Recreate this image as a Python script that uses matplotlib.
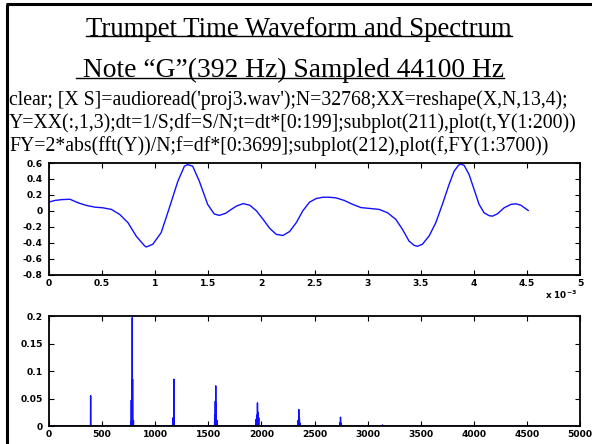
import numpy as np
import matplotlib
matplotlib.use("Agg")
import matplotlib.pyplot as plt
from matplotlib.lines import Line2D
from matplotlib.transforms import IdentityTransform

plt.rcParams['axes.unicode_minus'] = False

# ---------------- data ----------------
title_lines = ["Trumpet Time Waveform and Spectrum",
               " Note \u201cG\u201d(392 Hz) Sampled 44100 Hz"]
code_lines = ["clear; [X S]=audioread('proj3.wav');N=32768;XX=reshape(X,N,13,4);",
              "Y=XX(:,1,3);dt=1/S;df=S/N;t=dt*[0:199];subplot(211),plot(t,Y(1:200))",
              "FY=2*abs(fft(Y))/N;f=df*[0:3699];subplot(212),plot(f,FY(1:3700))"]

# time waveform (t in ms, i.e. x 10^-3 s)
t_ms = [0.000, 0.056, 0.119, 0.197, 0.275, 0.353, 0.431, 0.509, 0.588, 0.666,
        0.744, 0.822, 0.900, 0.916, 0.978, 1.056, 1.134, 1.213, 1.275, 1.306,
        1.353, 1.416, 1.494, 1.556, 1.603, 1.666, 1.708, 1.766, 1.828, 1.890,
        1.953, 2.016, 2.078, 2.140, 2.203, 2.266, 2.328, 2.390, 2.453, 2.516,
        2.578, 2.640, 2.703, 2.780, 2.860, 2.938, 3.016, 3.110, 3.188, 3.266,
        3.328, 3.390, 3.437, 3.469, 3.516, 3.579, 3.642, 3.704, 3.767, 3.814,
        3.855, 3.877, 3.909, 3.956, 4.003, 4.050, 4.097, 4.145, 4.176, 4.223,
        4.286, 4.349, 4.396, 4.443, 4.512]
y_wave = [0.110, 0.130, 0.140, 0.145, 0.100, 0.067, 0.046, 0.037, 0.017, -0.046,
          -0.150, -0.320, -0.440, -0.455, -0.420, -0.275, 0.040, 0.370, 0.560, 0.580,
          0.560, 0.370, 0.080, -0.040, -0.058, -0.030, 0.010, 0.060, 0.090, 0.070,
          0.000, -0.108, -0.220, -0.296, -0.310, -0.260, -0.150, 0.000, 0.108, 0.154,
          0.170, 0.170, 0.162, 0.130, 0.080, 0.040, 0.030, 0.017, -0.025, -0.108,
          -0.233, -0.380, -0.433, -0.446, -0.420, -0.317, -0.150, 0.080, 0.330, 0.496,
          0.570, 0.587, 0.570, 0.454, 0.267, 0.080, -0.025, -0.062, -0.067, -0.038,
          0.038, 0.080, 0.088, 0.070, 0.004]

# spectrum components (Hz, amplitude)
comp_f = [392, 770, 775, 784, 787, 795,
          1168, 1176, 1178,
          1560, 1566, 1570, 1574, 1582,
          1950, 1958, 1963, 1968, 1975,
          2345, 2352, 2358, 2366,
          2740, 2745, 2752,
          3140]
comp_a = [0.055, 0.008, 0.047, 0.197, 0.085, 0.010,
          0.015, 0.085, 0.045,
          0.020, 0.045, 0.073, 0.040, 0.010,
          0.012, 0.020, 0.042, 0.025, 0.015,
          0.010, 0.030, 0.014, 0.005,
          0.006, 0.016, 0.005,
          0.002]
f_max = 3699 * 44100 / 32768
df = 44100 / 32768

wave_xticks = [0, 0.5, 1, 1.5, 2, 2.5, 3, 3.5, 4, 4.5, 5]
wave_yticks = [-0.8, -0.6, -0.4, -0.2, 0, 0.2, 0.4, 0.6]
spec_xticks = [0, 500, 1000, 1500, 2000, 2500, 3000, 3500, 4000, 4500, 5000]
spec_yticks = [0, 0.05, 0.1, 0.15, 0.2]

# ---------------- figure ----------------
W, H = 592, 444
fig = plt.figure(figsize=(W / 100, H / 100), dpi=100)
fig.patch.set_facecolor('white')

serif = ['Liberation Serif', 'DejaVu Serif']
tick_font = dict(family='DejaVu Sans', weight='bold', size=6.6)

# titles
title_y = [1 - 29 / H, 1 - 70 / H]
title_x = [299 / W, 290 / W]
title_sz = [19.3, 19.8]
title_texts = []
for s, xx, yy, fs in zip(title_lines, title_x, title_y, title_sz):
    tt = fig.text(xx, yy, s, ha='center', va='center', family=serif, fontsize=fs)
    title_texts.append(tt)

# code lines
code_y = [1 - 100 / H, 1 - 123 / H, 1 - 146 / H]
for s, yy in zip(code_lines, code_y):
    fig.text(9 / W, yy, s, ha='left', va='center', family=serif, fontsize=14.2)

def style_axes(ax):
    for sp in ax.spines.values():
        sp.set_linewidth(1.3)
        sp.set_color('black')
    ax.tick_params(direction='in', length=3.5, width=0.8, top=True, right=True,
                   colors='black')
    ax.tick_params(axis='y', pad=4.5)
    ax.tick_params(axis='x', pad=3)
    for lab in ax.get_xticklabels() + ax.get_yticklabels():
        lab.set_fontfamily(tick_font['family'])
        lab.set_fontweight(tick_font['weight'])
        lab.set_fontsize(tick_font['size'])

# top: waveform
ax1 = fig.add_axes([49 / W, (H - 274.5) / H, 531 / W, 111.5 / H])
ax1.plot(t_ms, y_wave, color='#1010ff', linewidth=1.0)
ax1.set_xlim(0, 5)
ax1.set_ylim(-0.8, 0.6)
ax1.set_xticks(wave_xticks)
ax1.set_xticklabels([('%g' % v) for v in wave_xticks])
ax1.set_yticks(wave_yticks)
ax1.set_yticklabels([('%g' % round(v, 1)) for v in wave_yticks])
style_axes(ax1)
ax1.text(0.995, -0.125, r'x 10$^{\mathbf{-3}}$', transform=ax1.transAxes,
         ha='right', va='top', family='DejaVu Sans', weight='bold', fontsize=6.4)

# bottom: spectrum
sx = [0.0]
sy = [0.0]
for f, a in sorted(zip(comp_f, comp_a)):
    sx += [f - df, f, f + df]
    sy += [0.0, a, 0.0]
sx.append(f_max)
sy.append(0.0)
ax2 = fig.add_axes([49 / W, (H - 426) / H, 531 / W, 110 / H])
ax2.plot(sx, sy, color='#1010ff', linewidth=1.0)
ax2.set_xlim(0, 5000)
ax2.set_ylim(0, 0.2)
ax2.set_xticks(spec_xticks)
ax2.set_xticklabels([str(v) for v in spec_xticks])
ax2.set_yticks(spec_yticks)
ax2.set_yticklabels([('%g' % v) for v in spec_yticks])
style_axes(ax2)

# slide frame (left and top border)
fig.add_artist(Line2D([7.0 / W, 7.0 / W], [0, 1 - 4.5 / H], transform=fig.transFigure,
                      color='black', linewidth=2.2, solid_capstyle='butt'))
fig.add_artist(Line2D([5.9 / W, 1], [1 - 4.5 / H, 1 - 4.5 / H], transform=fig.transFigure,
                      color='black', linewidth=2.2, solid_capstyle='butt'))

# underline the title lines
fig.canvas.draw()
renderer = fig.canvas.get_renderer()
for tt in title_texts:
    bb = tt.get_window_extent(renderer)
    yline = bb.y0 + 0.20 * bb.height
    fig.add_artist(Line2D([bb.x0, bb.x1], [yline, yline], transform=IdentityTransform(),
                          color='black', linewidth=1.0))

fig.savefig('out.png', dpi=100)
